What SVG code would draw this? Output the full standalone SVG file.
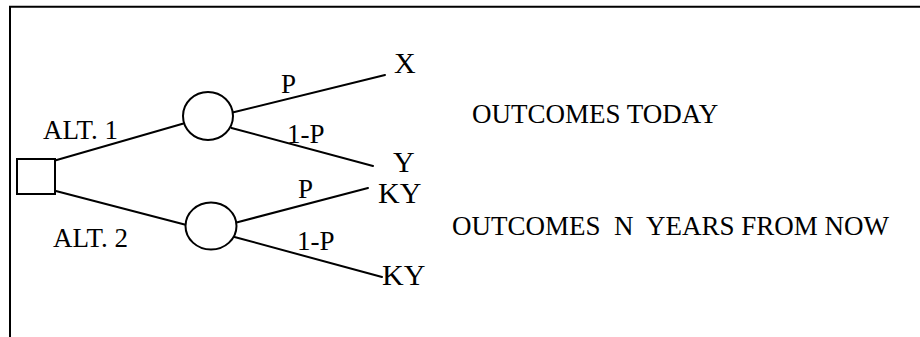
<svg xmlns="http://www.w3.org/2000/svg" width="920" height="337" viewBox="0 0 920 337">
  <style>
    .frame { fill: none; stroke: #000; stroke-width: 2; }
    .edge { stroke: #000; stroke-width: 2; fill: none; stroke-linecap: round; }
    .decision { fill: #fff; stroke: #000; stroke-width: 2; }
    .chance { fill: #fff; stroke: #000; stroke-width: 2; }
    text { font-family: "Liberation Serif", "Times New Roman", serif; fill: #000; font-size: 27px; }
    .outcome { font-size: 30px; }
  </style>
  <rect width="920" height="337" fill="#fff"/>

  <!-- open frame: top and left border only -->
  <path class="frame" d="M10,337 V6.8 H920"/>

  <!-- branches of the tree -->
  <g id="connectors">
    <line class="edge" x1="55" y1="160.5" x2="183.5" y2="123.5"/>
    <line class="edge" x1="52" y1="190" x2="186.5" y2="225"/>
    <line class="edge" x1="232.5" y1="112.5" x2="385" y2="75"/>
    <line class="edge" x1="231.5" y1="128" x2="373" y2="166"/>
    <line class="edge" x1="236.5" y1="222.5" x2="368" y2="188"/>
    <line class="edge" x1="234.5" y1="237" x2="382" y2="277"/>
  </g>

  <g id="decision">
    <rect class="decision" x="17" y="159" width="38" height="35"/>
  </g>
  <g id="chance-1">
    <ellipse class="chance" cx="208" cy="116" rx="25" ry="24"/>
  </g>
  <g id="chance-2">
    <ellipse class="chance" cx="211" cy="226" rx="25.5" ry="23.5"/>
  </g>

  <g id="labels">
    <text x="43" y="139">ALT. 1</text>
    <text x="53" y="247">ALT. 2</text>
    <text x="281" y="93">P</text>
    <text x="287" y="143">1-P</text>
    <text x="298" y="198">P</text>
    <text x="297" y="250">1-P</text>
  </g>

  <g id="outcomes">
    <text class="outcome" x="394" y="73">X</text>
    <text class="outcome" x="393" y="172">Y</text>
    <text class="outcome" x="378" y="203">KY</text>
    <text class="outcome" x="382" y="285">KY</text>
  </g>

  <g id="captions">
    <text x="472" y="123">OUTCOMES TODAY</text>
    <text x="452" y="235" xml:space="preserve">OUTCOMES  N  YEARS FROM NOW</text>
  </g>
</svg>
